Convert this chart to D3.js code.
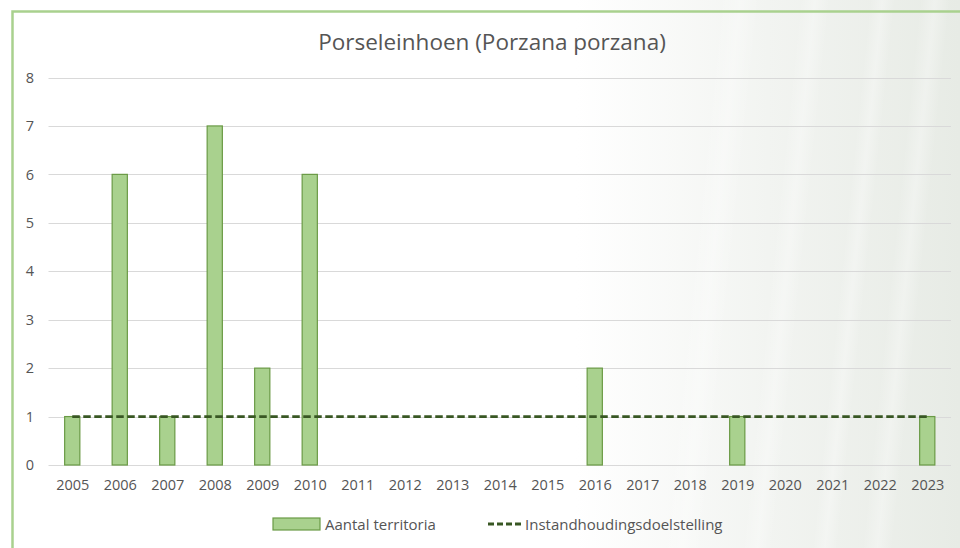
<!DOCTYPE html>
<html><head><meta charset="utf-8">
<script src="https://cdn.jsdelivr.net/npm/d3@7"></script>
<style>html,body{margin:0;padding:0;background:#fff;}svg{display:block;font-family:"Open Sans","Noto Sans",sans-serif;}</style>
</head><body>
<svg id="c" width="960" height="548"></svg>
<script>
const years = ["2005","2006","2007","2008","2009","2010","2011","2012","2013","2014","2015","2016","2017","2018","2019","2020","2021","2022","2023"];
const territories = [1,6,1,7,2,6,0,0,0,0,0,2,0,0,1,0,0,0,1];
const target = [1,1,1,1,1,1,1,1,1,1,1,1,1,1,1,1,1,1,1];
const yTicks = [0,1,2,3,4,5,6,7,8];
const titleText = "Porseleinhoen (Porzana porzana)";
const seriesNames = ["Aantal territoria","Instandhoudingsdoelstelling"];

const svg = d3.select("#c");
const W = 960, H = 548;
const defs = svg.append("defs");
const bg = defs.append("linearGradient").attr("id","bg").attr("x1","0").attr("x2","1").attr("y1","0").attr("y2","0");
bg.append("stop").attr("offset","0.6").attr("stop-color","#ffffff");
bg.append("stop").attr("offset","0.8").attr("stop-color","#f2f4f1");
bg.append("stop").attr("offset","1").attr("stop-color","#e7ebe5");
svg.append("rect").attr("width",W).attr("height",H).attr("fill","url(#bg)");
const streak = defs.append("linearGradient").attr("id","st").attr("x1","0").attr("x2","1");
streak.append("stop").attr("offset","0").attr("stop-color","#ffffff").attr("stop-opacity",0);
streak.append("stop").attr("offset","0.5").attr("stop-color","#ffffff").attr("stop-opacity",0.3);
streak.append("stop").attr("offset","1").attr("stop-color","#ffffff").attr("stop-opacity",0);
[[720,40],[800,30],[870,25],[920,30]].forEach(([x,w])=>{
  svg.append("rect").attr("x",x).attr("y",0).attr("width",w).attr("height",H).attr("fill","url(#st)")
    .attr("transform",`skewX(-6)`);
});

svg.append("path").attr("d",`M12.5,${H} L12.5,11.5 L${W},11.5`).attr("fill","none").attr("stroke","#a9d18e").attr("stroke-width",2.5);

const x = d3.scaleBand().domain(years).range([48.5,951]).paddingInner(0.68).paddingOuter(0.34);
const xc = d3.scalePoint().domain(years).range([48.5,951]).padding(0.5);
const y = d3.scaleLinear().domain([0,8]).range([465,77.5]);

svg.append("g").selectAll("line").data(yTicks).join("line")
  .attr("x1",48.5).attr("x2",951).attr("y1",d=>Math.round(y(d))+0.5).attr("y2",d=>Math.round(y(d))+0.5)
  .attr("stroke","#d9d9d9").attr("stroke-width",1);

const tickFont = 14.5, tickColor = "#555555";
const yAxis = d3.axisLeft(y).tickValues(yTicks).tickSize(0).tickPadding(0);
const ga = svg.append("g").attr("transform","translate(34,0)").call(yAxis);
ga.select(".domain").remove();
ga.selectAll("text").attr("font-size",tickFont).attr("fill",tickColor).attr("font-family","'Open Sans',sans-serif");

const xAxis = d3.axisBottom(xc).tickSize(0).tickPadding(0);
const gx = svg.append("g").attr("transform","translate(0,480)").call(xAxis);
gx.select(".domain").remove();
gx.selectAll("text").attr("font-size",tickFont).attr("fill",tickColor).attr("font-family","'Open Sans',sans-serif");

svg.append("g").selectAll("rect").data(years.map((yr,i)=>({yr,v:territories[i]})).filter(d=>d.v>0)).join("rect")
  .attr("x",d=>x(d.yr)).attr("width",x.bandwidth())
  .attr("y",d=>y(d.v)).attr("height",d=>y(0)-y(d.v))
  .attr("fill","#a9d18e").attr("stroke","#6a9a45").attr("stroke-width",1.2);

const line = d3.line().x((d,i)=>xc(years[i])).y(d=>y(d));
svg.append("path").datum(target).attr("d",line).attr("fill","none")
  .attr("stroke","#385723").attr("stroke-width",2.8).attr("stroke-dasharray","7.5,3.5");

svg.append("text").attr("x",492).attr("y",50).attr("text-anchor","middle")
  .attr("font-size",22.5).attr("fill",tickColor).text(titleText);

const lg = svg.append("g");
lg.append("rect").attr("x",273).attr("y",518).attr("width",47).attr("height",12)
  .attr("fill","#a9d18e").attr("stroke","#6a9a45").attr("stroke-width",1.2);
lg.append("text").attr("x",325).attr("y",529.5).attr("font-size",15).attr("fill",tickColor).text(seriesNames[0]);
lg.append("line").attr("x1",488).attr("x2",521).attr("y1",524).attr("y2",524)
  .attr("stroke","#385723").attr("stroke-width",2.8).attr("stroke-dasharray","6,3");
lg.append("text").attr("x",525).attr("y",529.5).attr("font-size",15).attr("fill",tickColor).text(seriesNames[1]);
</script>
</body></html>
